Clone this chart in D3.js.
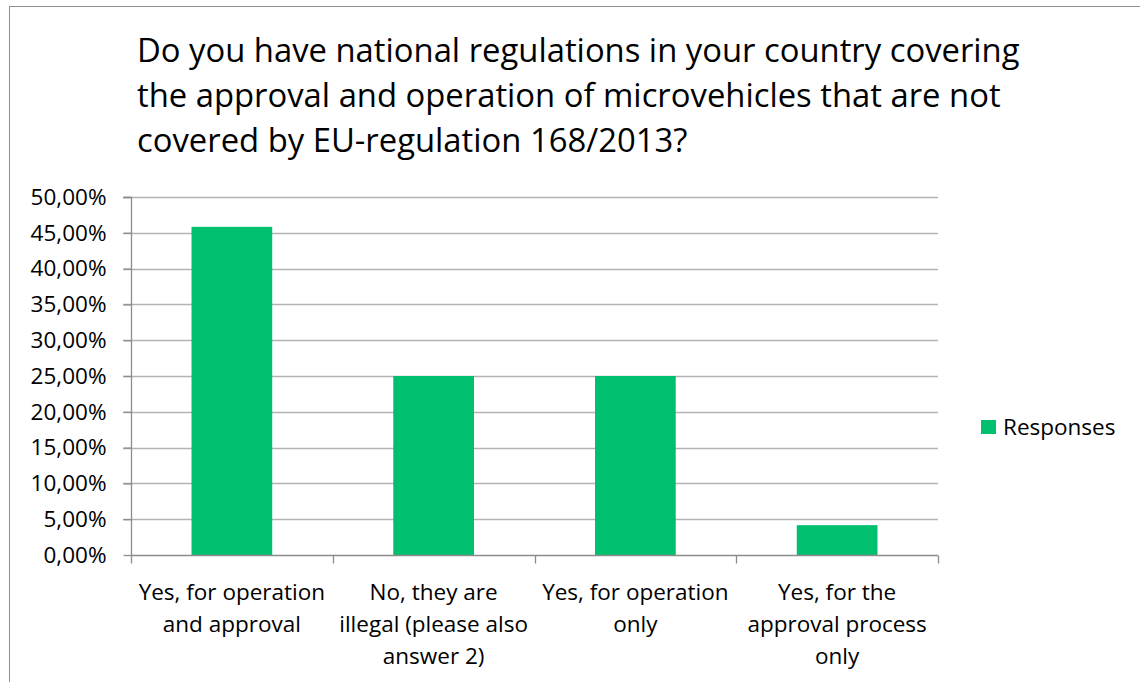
<!DOCTYPE html>
<html>
<head>
<meta charset="utf-8">
<script src="https://cdn.jsdelivr.net/npm/d3@7"></script>
<style>
  html, body { margin: 0; padding: 0; background: #fff; }
  svg { display: block; font-family: "Open Sans", "Noto Sans", sans-serif; }
</style>
</head>
<body>
<svg id="chart" width="1140" height="682"></svg>
<script>
// Survey answers and their share of responses
const categories = [
  ["Yes, for operation", "and approval"],
  ["No, they are", "illegal (please also", "answer 2)"],
  ["Yes, for operation", "only"],
  ["Yes, for the", "approval process", "only"]
];
const responses = [0.4583, 0.25, 0.25, 0.0417];
const yTicks = [0, 0.05, 0.10, 0.15, 0.20, 0.25, 0.30, 0.35, 0.40, 0.45, 0.50];
const titleLines = [
  "Do you have national regulations in your country covering",
  "the approval and operation of microvehicles that are not",
  "covered by EU-regulation 168/2013?"
];
const seriesName = "Responses";

const barColor = "#00bf6f";
const gridColor = "#b3b3b3";
const axisColor = "#8c8c8c";
const labelSize = 22.5;

const svg = d3.select("#chart");

// chart frame
svg.append("rect")
  .attr("x", 9.5).attr("y", 6.5)
  .attr("width", 1140).attr("height", 700)
  .attr("fill", "#fff").attr("stroke", "#8f8f8f").attr("stroke-width", 1);

// title
svg.append("g").selectAll("text")
  .data(titleLines).join("text")
  .attr("x", 137)
  .attr("y", (d, i) => 62 + i * 45)
  .attr("font-size", 32.8)
  .attr("fill", "#000")
  .text(d => d);

const plot = { left: 131, right: 938, top: 197, bottom: 555 };

const x = d3.scaleBand()
  .domain(d3.range(categories.length))
  .range([plot.left, plot.right])
  .paddingInner(0).paddingOuter(0);

const y = d3.scaleLinear()
  .domain([0, 0.5])
  .range([plot.bottom, plot.top]);

const fmt = v => d3.format(".2f")(v * 100).replace(".", ",") + "%";

// horizontal gridlines with outward tick marks
svg.append("g").selectAll("line")
  .data(yTicks.filter(t => t > 0)).join("line")
  .attr("x1", plot.left - 8).attr("x2", plot.right)
  .attr("y1", d => Math.round(y(d)) + 0.5)
  .attr("y2", d => Math.round(y(d)) + 0.5)
  .attr("stroke", gridColor).attr("stroke-width", 1.3);

// bars
const barW = x.bandwidth() * 0.4;
svg.append("g").selectAll("rect")
  .data(responses).join("rect")
  .attr("x", (d, i) => x(i) + (x.bandwidth() - barW) / 2)
  .attr("width", barW)
  .attr("y", d => y(d))
  .attr("height", d => y(0) - y(d))
  .attr("fill", barColor);

// y axis
const yAxis = svg.append("g")
  .attr("transform", `translate(${plot.left + 0.5},0)`)
  .call(d3.axisLeft(y).tickValues(yTicks).tickFormat(fmt).tickSize(8).tickPadding(17));
yAxis.select(".domain").attr("stroke", axisColor).attr("stroke-width", 1.3)
  .attr("d", `M-8,${Math.round(plot.top) + 0.5}H0V${plot.bottom + 0.5}`);
yAxis.selectAll(".tick line").attr("stroke", axisColor).attr("stroke-width", 1.3);
yAxis.selectAll(".tick text")
  .attr("font-size", labelSize).attr("fill", "#000")
  .attr("font-family", "'Open Sans', sans-serif");

// x axis line and category separators
const xAxis = svg.append("g")
  .attr("transform", `translate(0,${plot.bottom + 0.5})`);
xAxis.append("line")
  .attr("x1", plot.left).attr("x2", plot.right)
  .attr("stroke", axisColor).attr("stroke-width", 1.3);
const bounds = d3.range(categories.length + 1).map(i =>
  i < categories.length ? x(i) : x(categories.length - 1) + x.bandwidth());
xAxis.selectAll("line.sep")
  .data(bounds).join("line")
  .attr("class", "sep")
  .attr("x1", d => Math.round(d) + 0.5).attr("x2", d => Math.round(d) + 0.5)
  .attr("y1", 0).attr("y2", 8)
  .attr("stroke", axisColor).attr("stroke-width", 1.3);

// category labels
const labels = svg.append("g").selectAll("text")
  .data(categories).join("text")
  .attr("text-anchor", "middle")
  .attr("font-size", labelSize)
  .attr("fill", "#000");
labels.each(function (lines, i) {
  d3.select(this).selectAll("tspan")
    .data(lines).join("tspan")
    .attr("x", x(i) + x.bandwidth() / 2)
    .attr("y", (d, j) => 600 + j * 32)
    .text(d => d);
});

// legend
const legend = svg.append("g");
legend.append("rect")
  .attr("x", 981).attr("y", 420).attr("width", 15).attr("height", 14)
  .attr("fill", barColor);
legend.append("text")
  .attr("x", 1003).attr("y", 435)
  .attr("font-size", labelSize).attr("fill", "#000")
  .text(seriesName);
</script>
</body>
</html>
